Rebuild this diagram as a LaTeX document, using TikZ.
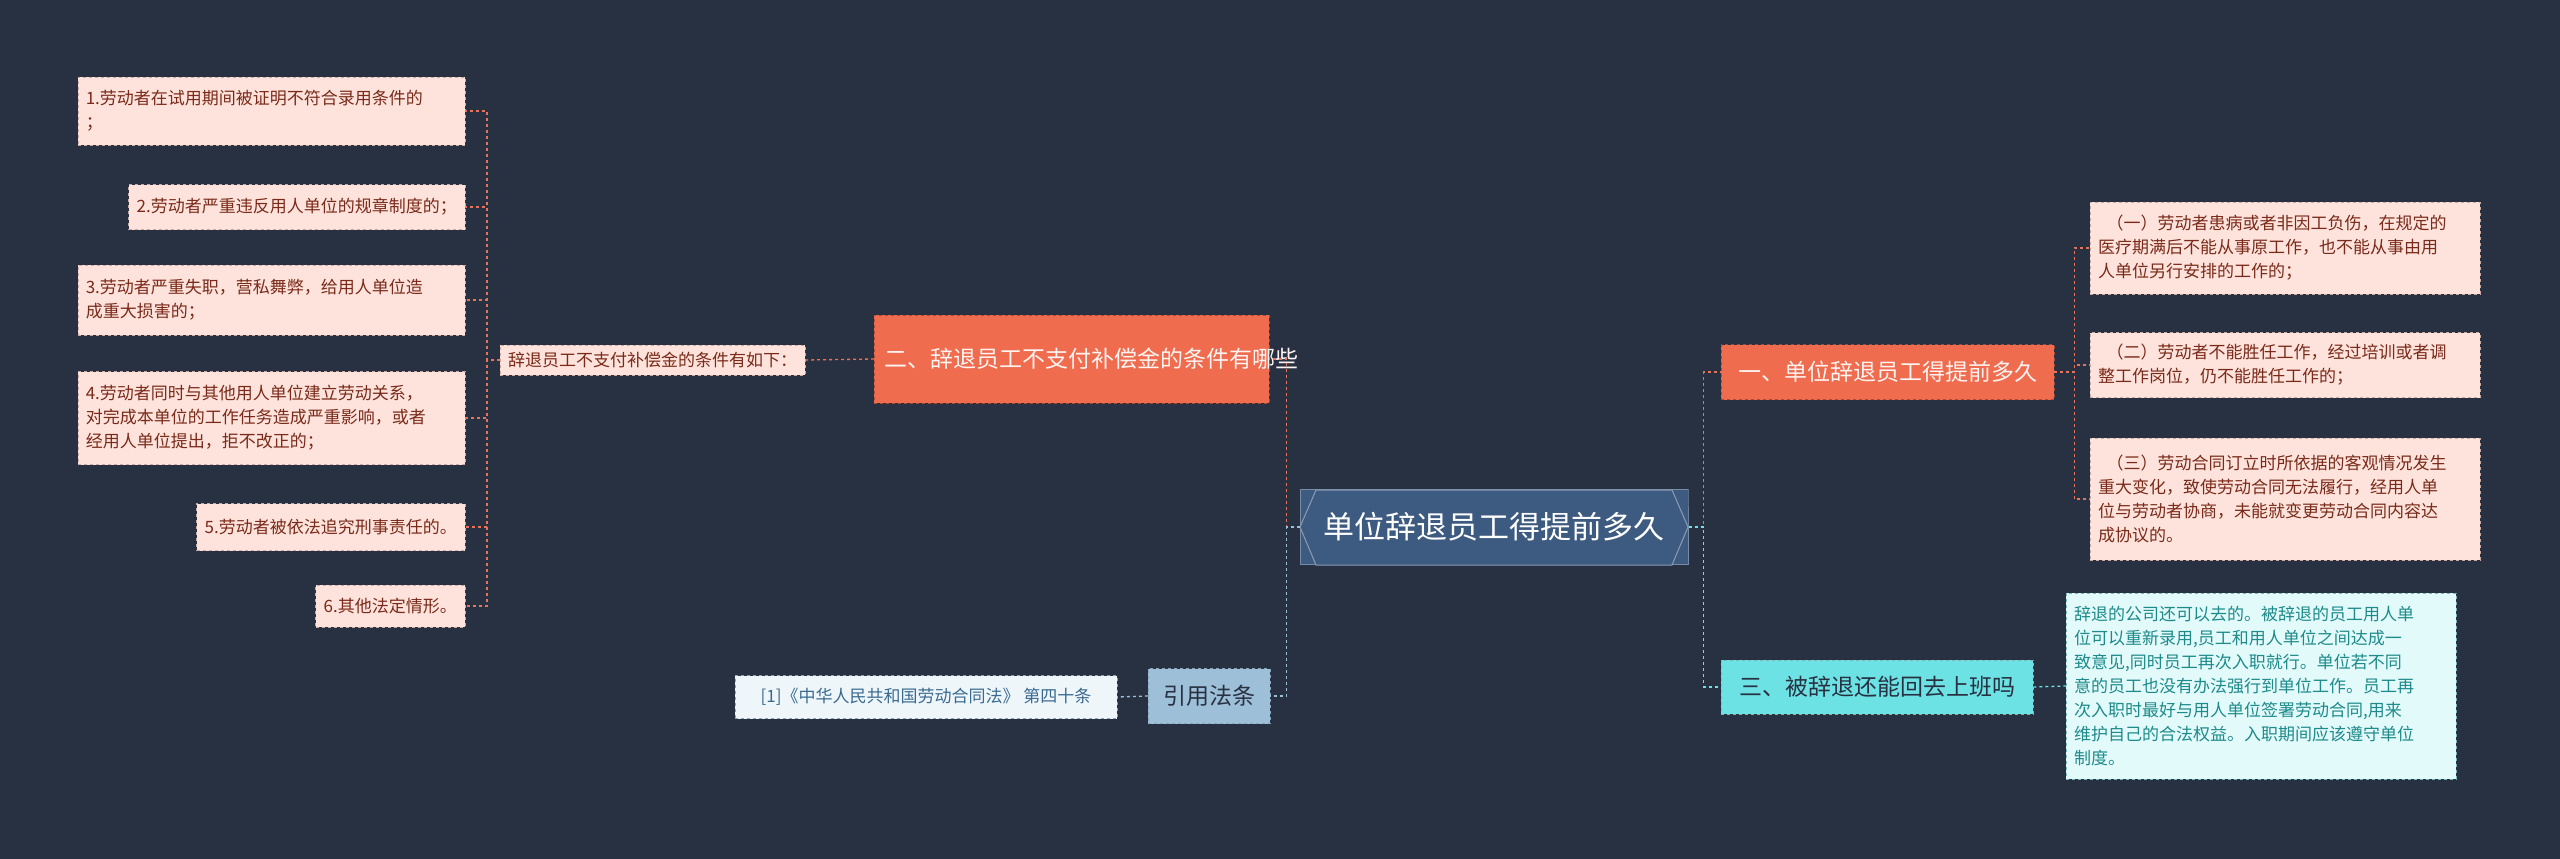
\documentclass[tikz,border=0pt]{standalone}
\usepackage{fontspec}
\setmainfont{Noto Sans CJK SC}
\definecolor{bg}{HTML}{283142}
\definecolor{org}{HTML}{EF6C4E}
\definecolor{orgl}{HTML}{E8735A}
\definecolor{pink}{HTML}{FDE3DB}
\definecolor{pinkt}{HTML}{7A2A1A}
\definecolor{hexf}{HTML}{3D5A80}
\definecolor{cyn}{HTML}{6DE2E4}
\definecolor{cynl}{HTML}{E2FAFA}
\definecolor{cynt}{HTML}{1E8A8A}
\definecolor{ref}{HTML}{9DBFD8}
\definecolor{refl}{HTML}{EEF6FA}
\definecolor{reft}{HTML}{3A6A90}
\begin{document}
\begin{tikzpicture}[x=1pt,y=-1pt,
  leaf/.style={draw=pinkt!40,dashed,fill=pink,text=pinkt,font=\fontsize{17}{24}\selectfont,align=left,inner xsep=8,inner ysep=7},
  mainb/.style={draw=org!70!black,dashed,fill=org,text=white!92!org,font=\fontsize{23}{30}\selectfont,align=left,inner xsep=10,inner ysep=8},
  cl/.style={orgl,dashed,line width=1.3pt},
  cc/.style={cyn,dashed,line width=1.3pt},
  cr/.style={ref,dashed,line width=1.3pt}]
\fill[bg] (0,0) rectangle (2560,859);
\useasboundingbox (0,0) rectangle (2560,859);
% center
\node[fill=hexf,draw=hexf!70!white,line width=1pt,text=white,font=\fontsize{31}{36}\selectfont,
  minimum width=388,minimum height=75,inner sep=0,
  chamfered rectangle/.try] (c) at (1494,527) {单位辞退员工得提前多久};
\fill[bg] (c.north west) -- ++(-1,0) -- ([xshift=-13]c.west) -- ([xshift=-1]c.south west) -- cycle;
\fill[bg] (c.north east) -- ++(1,0) -- ([xshift=13]c.east) -- ([xshift=1]c.south east) -- cycle;
\fill[hexf] (1300,527) -- (1316,490) -- (1672,490) -- (1688,527) -- (1672,565) -- (1316,565) -- cycle;
\draw[hexf!60!white,line width=1pt] (1300,527) -- (1316,490) -- (1672,490) -- (1688,527) -- (1672,565) -- (1316,565) -- cycle;
\node[text=white,font=\fontsize{31}{36}\selectfont] at (1494,527) {单位辞退员工得提前多久};
% left branch
\node[mainb,text width=375,minimum height=88,anchor=west] (o2) at (874,359) {二、辞退员工不支付补偿金的条件有哪些};
\node[leaf,anchor=west] (m) at (500,360) {辞退员工不支付补偿金的条件有如下：};
\node[leaf,anchor=east,text width=371,minimum height=68] (l1) at (465,111) {1.劳动者在试用期间被证明不符合录用条件的\\；};
\node[leaf,anchor=east,minimum height=45] (l2) at (465,207) {2.劳动者严重违反用人单位的规章制度的；};
\node[leaf,anchor=east,text width=371,minimum height=70] (l3) at (465,300) {3.劳动者严重失职，营私舞弊，给用人单位造\\成重大损害的；};
\node[leaf,anchor=east,text width=371,minimum height=93] (l4) at (465,418) {4.劳动者同时与其他用人单位建立劳动关系，\\对完成本单位的工作任务造成严重影响，或者\\经用人单位提出，拒不改正的；};
\node[leaf,anchor=east,minimum height=47] (l5) at (465,527) {5.劳动者被依法追究刑事责任的。};
\node[leaf,anchor=east,minimum height=42] (l6) at (465,606) {6.其他法定情形。};
\draw[cl] (c.west) -- ++(-13,0) |- (o2.east);
\draw[cl] (o2.west) -- (m.east);
\foreach \n in {l1,l2,l3,l4,l5,l6} \draw[cl] (m.west) -- ++(-13,0) |- (\n.east);
% reference
\node[draw=reft!60,dashed,fill=ref,text=bg,font=\fontsize{23}{28}\selectfont,minimum width=122,minimum height=55] (r) at (1209,696) {引用法条};
\node[draw=reft!60,dashed,fill=refl,text=reft,font=\fontsize{17}{22}\selectfont,minimum width=382,minimum height=43] (rl) at (926,697) {[1]《中华人民共和国劳动合同法》 第四十条};
\draw[cr] (c.west) -- ++(-13,0) |- (r.east);
\draw[cr] (r.west) -- (rl.east);
% right branch
\node[mainb,minimum width=333,minimum height=55,anchor=west] (o1) at (1721,372) {一、单位辞退员工得提前多久};
\node[leaf,anchor=west,text width=374,minimum height=92] (r1) at (2090,248) {\hspace*{0.5em}（一）劳动者患病或者非因工负伤，在规定的\\医疗期满后不能从事原工作，也不能从事由用\\人单位另行安排的工作的；};
\node[leaf,anchor=west,text width=374,minimum height=65] (r2) at (2090,365) {\hspace*{0.5em}（二）劳动者不能胜任工作，经过培训或者调\\整工作岗位，仍不能胜任工作的；};
\node[leaf,anchor=west,text width=374,minimum height=122] (r3) at (2090,499) {\hspace*{0.5em}（三）劳动合同订立时所依据的客观情况发生\\重大变化，致使劳动合同无法履行，经用人单\\位与劳动者协商，未能就变更劳动合同内容达\\成协议的。};
\draw[cl] (c.east) -- ++(15,0) |- (o1.west);
\foreach \n in {r1,r2,r3} \draw[cl] (o1.east) -- ++(20,0) |- (\n.west);
\node[draw=cynt!60,dashed,fill=cyn,text=bg,font=\fontsize{23}{30}\selectfont,minimum width=312,minimum height=54,anchor=west] (o3) at (1721,687) {三、被辞退还能回去上班吗};
\node[draw=cynt!60,dashed,fill=cynl,text=cynt,font=\fontsize{17}{24}\selectfont,align=left,text width=374,inner xsep=8,minimum height=186,anchor=west] (cl1) at (2066,686) {辞退的公司还可以去的。被辞退的员工用人单\\位可以重新录用,员工和用人单位之间达成一\\致意见,同时员工再次入职就行。单位若不同\\意的员工也没有办法强行到单位工作。员工再\\次入职时最好与用人单位签署劳动合同,用来\\维护自己的合法权益。入职期间应该遵守单位\\制度。};
\draw[cc] (c.east) -- ++(15,0) |- (o3.west);
\draw[cc] (o3.east) -- (cl1.west);
\end{tikzpicture}
\end{document}
